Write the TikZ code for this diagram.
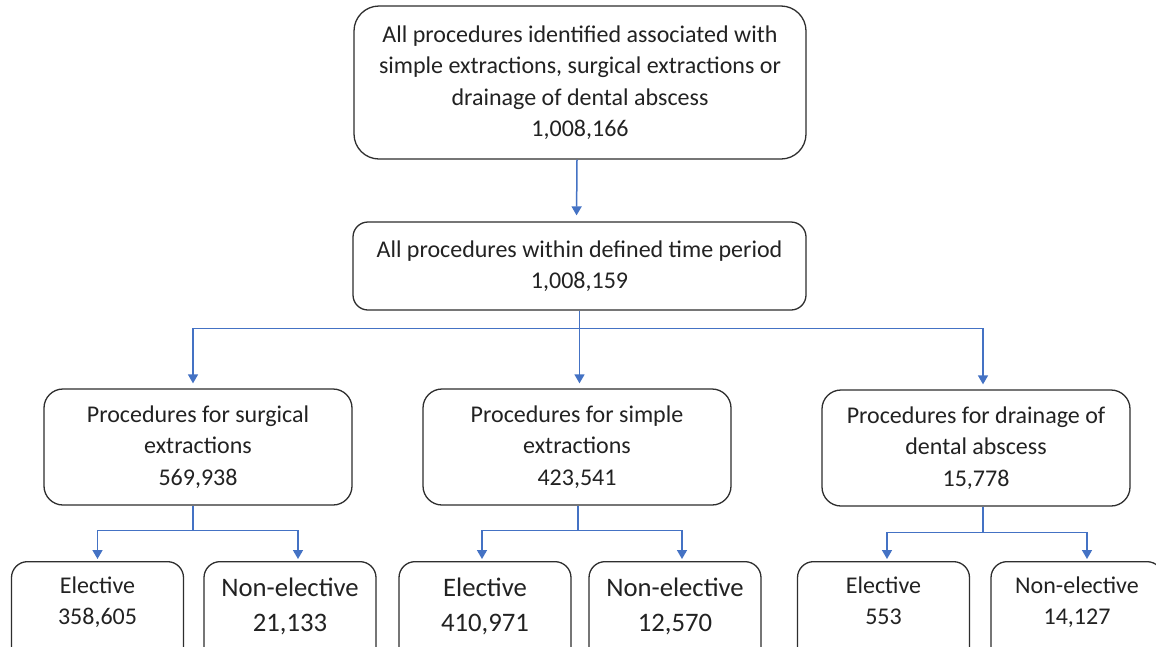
\documentclass[tikz,border=0pt]{standalone}
\usepackage{fontspec}
\setmainfont{Carlito}
\usetikzlibrary{arrows.meta}
\definecolor{arrc}{HTML}{4472C4}
\definecolor{boxc}{HTML}{2E2E2E}
\definecolor{txt}{HTML}{222222}
\tikzset{
  box/.style={draw=boxc, line width=1.3pt, align=center, text=txt, inner sep=0pt,
    font=\fontsize{24}{31.5}\selectfont},
  midbox/.style={box, minimum width=308pt, minimum height=116pt, rounded corners=19pt},
  leaf/.style={box, anchor=north, minimum width=172pt, inner ysep=15pt, text depth=90pt, rounded corners=16pt},
  leafbig/.style={leaf, inner ysep=16pt, font=\fontsize{26.7}{35}\selectfont},
  ln/.style={draw=arrc, line width=1.5pt},
  arr/.style={ln, -{Triangle[width=10pt,length=9pt]}},
}
\begin{document}
\begin{tikzpicture}[x=1pt,y=-1pt]
\useasboundingbox (0,0) rectangle (1156,646);
\clip (0,0) rectangle (1156,646);
\fill[white] (0,0) rectangle (1156,646);

\node[box, minimum width=452pt, minimum height=153pt, rounded corners=25pt] (top) at (580,82.5)
  {All procedures identified associated with\\simple extractions, surgical extractions or\\drainage of dental abscess\\1,008,166};
\node[box, minimum width=453pt, minimum height=88pt, rounded corners=15pt] (all) at (579.5,266)
  {All procedures within defined time period\\1,008,159};

\node[midbox] (surg) at (198,447) {Procedures for surgical\\extractions\\569,938};
\node[midbox] (simple) at (577,447) {Procedures for simple\\extractions\\423,541};
\node[midbox] (drain) at (976,448) {Procedures for drainage of\\dental abscess\\15,778};

\node[leaf] (e1) at (97.5,561) {Elective\\358,605};
\node[leafbig] (n1) at (290,561) {Non-elective\\21,133};
\node[leafbig] (e2) at (485,561) {Elective\\410,971};
\node[leafbig] (n2) at (675,561) {Non-elective\\12,570};
\node[leaf] (e3) at (883.5,561) {Elective\\553};
\node[leaf] (n3) at (1077,561) {Non-elective\\14,127};

\draw[arr, shorten >=6pt] ([xshift=-3pt]top.south) -- ([xshift=-3pt]all.north);

\draw[ln] (all.south) -- ++(0,18) coordinate (j1);
\draw[arr, shorten >=5pt] (j1) -| ([xshift=-5pt]surg.north);
\draw[arr, shorten >=5pt] (j1) -- (j1 |- simple.north);
\draw[arr, shorten >=5pt] (j1) -| ([xshift=7pt]drain.north);

\draw[ln] ([xshift=-5pt]surg.south) -- ++(0,25) coordinate (j2);
\draw[arr, shorten >=2pt] (j2) -| (e1.north);
\draw[arr, shorten >=2pt] (j2) -| ([xshift=8pt]n1.north);

\draw[ln] ([xshift=1pt]simple.south) -- ++(0,25) coordinate (j3);
\draw[arr, shorten >=2pt] (j3) -| ([xshift=-3pt]e2.north);
\draw[arr, shorten >=2pt] (j3) -| ([xshift=7pt]n2.north);

\draw[ln] ([xshift=7pt]drain.south) -- ++(0,26) coordinate (j4);
\draw[arr, shorten >=2pt] (j4) -| ([xshift=3.5pt]e3.north);
\draw[arr, shorten >=2pt] (j4) -| ([xshift=10pt]n3.north);
\end{tikzpicture}
\end{document}
